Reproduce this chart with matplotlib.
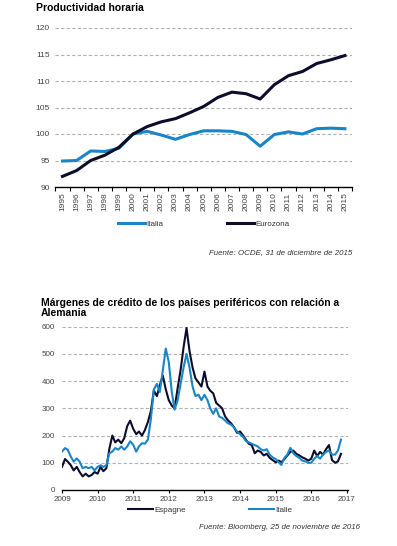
import matplotlib
matplotlib.use('Agg')
import matplotlib.pyplot as plt
import matplotlib.dates as mdates
import numpy as np
import pandas as pd
from datetime import datetime

plt.rcParams['font.family'] = ['Liberation Sans', 'DejaVu Sans']

AZUL = '#1a85c6'
NEGRO = '#0c0d2a'
GRIS = '#444444'

# Productividad horaria (indice, 2000 = 100)
anios = ['1995', '1996', '1997', '1998', '1999', '2000', '2001', '2002', '2003', '2004', '2005',
         '2006', '2007', '2008', '2009', '2010', '2011', '2012', '2013', '2014', '2015']
italia = [94.9, 95.0, 96.8, 96.7, 97.3, 100.0, 100.5, 99.8, 99.0, 99.9, 100.6,
          100.6, 100.5, 99.9, 97.7, 99.9, 100.4, 100.0, 101.0, 101.1, 101.0]
eurozona = [92.0, 93.1, 95.0, 96.0, 97.5, 100.0, 101.4, 102.3, 102.9, 104.0, 105.2,
            106.9, 107.9, 107.6, 106.6, 109.3, 111.0, 111.8, 113.3, 114.0, 114.8]

# Margenes de credito frente a Alemania (pb), mensual ene-2009 .. nov-2016
espagne = [85, 114, 104, 91, 72, 85, 66, 50, 60, 50, 55, 66,
           60, 85, 69, 80, 150, 200, 175, 185, 172, 190, 235, 255,
           225, 205, 215, 200, 220, 250, 290, 365, 345, 385, 420, 370,
           330, 310, 300, 375, 440, 525, 595, 510, 450, 410, 395, 380,
           435, 380, 365, 355, 320, 310, 300, 270, 255, 245, 230, 210,
           215, 200, 185, 170, 165, 135, 145, 140, 127, 133, 118, 110,
           102, 108, 102, 114, 127, 140, 145, 133, 127, 120, 115, 108,
           115, 145, 125, 140, 130, 150, 165, 110, 100, 105, 133]
italie = [141, 154, 148, 123, 104, 116, 104, 80, 85, 80, 85, 72,
          85, 91, 85, 91, 135, 141, 154, 148, 160, 148, 160, 179,
          166, 141, 160, 172, 170, 185, 260, 370, 390, 360, 440, 520,
          470, 360, 295, 330, 390, 450, 500, 450, 380, 345, 350, 330,
          350, 330, 300, 280, 300, 270, 265, 255, 245, 240, 230, 215,
          205, 195, 180, 175, 170, 165, 160, 150, 145, 150, 130, 120,
          114, 102, 92, 118, 130, 155, 135, 125, 118, 108, 105, 100,
          100, 115, 125, 115, 130, 140, 145, 130, 130, 145, 185]
fechas = pd.date_range('2009-01-01', periods=len(espagne), freq='MS')

W, H = 397, 546
fig = plt.figure(figsize=(W / 100, H / 100), dpi=100)

# ---- grafico 1
ax1 = fig.add_axes([55.4 / W, 1 - 187 / H, 296.6 / W, 159 / H])
x = np.arange(len(anios))
ax1.plot(x, italia, color=AZUL, lw=2.2, label='Italia')
ax1.plot(x, eurozona, color=NEGRO, lw=2.2, label='Eurozona')
ax1.set_xlim(-0.5, len(anios) - 0.5)
ax1.set_ylim(90, 120)
ax1.set_yticks(range(90, 121, 5))
ax1.yaxis.grid(True, ls=(0, (3, 2)), color='#b0b0b0', lw=0.8)
ax1.set_axisbelow(True)
for s in ['top', 'right', 'left']:
    ax1.spines[s].set_visible(False)
ax1.spines['bottom'].set_linewidth(1.0)
ax1.tick_params(axis='y', length=0, labelsize=6, labelcolor=GRIS, pad=4)
ax1.set_xticks(np.arange(-0.5, len(anios)), labels=[])
ax1.set_xticks(x, minor=True)
ax1.set_xticklabels(anios, minor=True, rotation=90)
ax1.tick_params(axis='x', which='major', length=3, width=0.8)
ax1.tick_params(axis='x', which='minor', length=0, labelsize=6, labelcolor=GRIS, pad=4)

fig.text(36 / W, 1 - 8 / H, 'Productividad horaria', fontsize=7.5, fontweight='bold', va='center')
ax1.legend(loc='center left', bbox_to_anchor=(118 / W, 1 - 224 / H), bbox_transform=fig.transFigure,
           frameon=False, ncol=2, handlelength=3.3, handletextpad=0.15, columnspacing=8.0,
           borderpad=0, borderaxespad=0, fontsize=5.8, labelcolor='#333333')
fig.text(352 / W, 1 - 252.7 / H, 'Fuente: OCDE, 31 de diciembre de 2015', ha='right', va='center',
         style='italic', fontsize=5.7, color='#333333')

# ---- grafico 2
ax2 = fig.add_axes([62 / W, 1 - 490 / H, 286 / W, 163.3 / H])
ax2.plot(fechas, espagne, color=NEGRO, lw=1.5, label='Espagne')
ax2.plot(fechas, italie, color=AZUL, lw=1.5, label='Italie')
ax2.set_xlim(datetime(2009, 1, 1), datetime(2017, 1, 12))
ax2.set_ylim(0, 600)
ax2.set_yticks(range(0, 601, 100))
ax2.yaxis.grid(True, ls=(0, (3, 2)), color='#b0b0b0', lw=0.8)
ax2.set_axisbelow(True)
for s in ['top', 'right', 'left']:
    ax2.spines[s].set_visible(False)
ax2.spines['bottom'].set_linewidth(1.0)
ax2.xaxis.set_major_locator(mdates.YearLocator())
ax2.xaxis.set_major_formatter(mdates.DateFormatter('%Y'))
ax2.tick_params(axis='y', length=0, labelsize=5.8, labelcolor=GRIS, pad=5)
ax2.tick_params(axis='x', length=2.5, width=0.8, labelsize=5.8, labelcolor=GRIS, pad=1.5)

fig.text(40.7 / W, 1 - 308 / H, 'Márgenes de crédito de los países periféricos con relación a\nAlemania',
         fontsize=7.5, fontweight='bold', va='center', linespacing=1.1)
ax2.legend(loc='center left', bbox_to_anchor=(128 / W, 1 - 510 / H), bbox_transform=fig.transFigure,
           frameon=False, ncol=2, handlelength=3.1, handletextpad=0.15, columnspacing=7.8,
           borderpad=0, borderaxespad=0, fontsize=5.8, labelcolor='#333333')
fig.text(360 / W, 1 - 527.7 / H, 'Fuente: Bloomberg, 25 de noviembre de 2016', ha='right', va='center',
         style='italic', fontsize=5.7, color='#333333')

fig.savefig('out.png', dpi=100)
